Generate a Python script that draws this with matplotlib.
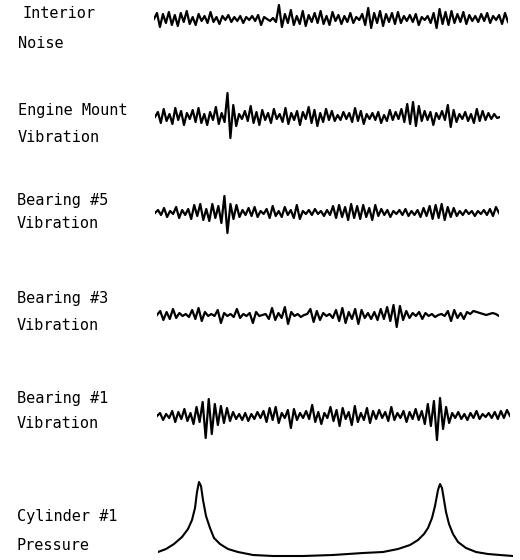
import matplotlib
matplotlib.use("Agg")
import matplotlib.pyplot as plt

W, H = 520, 560

# labels for each channel (two lines each)
labels = [
    ("Interior", "Noise"),
    ("Engine Mount", "Vibration"),
    ("Bearing #5", "Vibration"),
    ("Bearing #3", "Vibration"),
    ("Bearing #1", "Vibration"),
    ("Cylinder #1", "Pressure"),
]

# signals (pixel-ish amplitude, positive = up)
interior_noise = [0, 6, -8, 5, -4, 7, -6, 4, -7, 6, -3, 8, -5, 2, -6, 5, -2, 3, -4, 7,
                  -3, 2, -5, 3, -1, 4, -3, 2, -2, 3, -4, 2, -1, 3, -2, 4, -6, 2, 0, -2,
                  1, -3, 14, -8, 5, -4, 9, -6, 3, -5, 8, -7, 4, -3, 6, -4, 8, -5, 3, -6,
                  7, -2, 4, -5, 3, -3, 6, -4, 2, -1, 5, -6, 11, -9, 6, -4, 8, -7, 5, -3,
                  6, -5, 7, -4, 3, -2, 4, -3, 5, -6, 2, -1, 3, -4, 6, -9, 10, -5, 7, -6,
                  8, -4, 5, -3, 7, -5, 4, -2, 3, -3, 5, -2, 6, -4, 3, -1, 4, -5, 6, -3]

engine_mount = [0, 5, -6, 8, -4, 3, -7, 9, -3, 6, -8, 4, -2, 7, -5, 9, -6, 3, -8, 5,
                -3, 10, -7, 4, -5, 24, -21, 12, -9, 3, -2, 6, -4, 11, -6, 5, -8, 7, -3, 4,
                -6, 8, -2, 3, -5, 9, -7, 4, -3, 6, -8, 5, -2, 10, -6, 7, -9, 4, -5, 8,
                -3, 6, -4, 2, -3, 5, -2, 4, -5, 9, -4, 6, -7, 3, -2, 4, -3, 5, -6, 2,
                -4, 7, -3, 5, -2, 8, -5, 13, -7, 15, -9, 11, -4, 6, -3, 5, -8, 4, -2, 6,
                -3, 12, -10, 7, -5, 3, -2, 5, -4, 3, -6, 8, -4, 6, -3, 4, -2, 3, -1, 0]

bearing_5 = [0, 3, -2, 5, -4, 2, -1, 6, -5, 3, -2, 4, -6, 8, -3, 9, -7, 4, -8, 9,
             -5, 7, -10, 17, -20, 9, -6, 8, -4, 3, -2, 5, -3, 6, -4, 2, -1, 4, -5, 7,
             -3, 2, -4, 6, -2, 3, -5, 8, -6, 2, -1, 3, -2, 4, -1, 2, -3, 3, -2, 7,
             -5, 8, -4, 6, -7, 9, -5, 7, -6, 8, -4, 5, -7, 8, -3, 4, -2, 3, -4, 2,
             -1, 3, -2, 4, -3, 2, -2, 3, -4, 5, -3, 7, -6, 8, -5, 9, -7, 6, -4, 5,
             -3, 2, -2, 3, -1, 2, -3, 2, -1, 3, -2, 4, -3, 6, 0]

bearing_3 = [0, 4, -5, 3, -4, 6, -3, 2, -1, 1, -2, 5, -4, 7, -6, 3, -1, 1, -1, 5,
             -8, 2, -1, 1, -2, 6, -3, 1, -1, 2, -8, 3, -1, 0, 1, -4, 7, -5, 2, -3,
             8, -9, 3, -1, 1, -2, 0, 1, 6, -7, 4, -5, 2, -1, 1, -3, 5, -6, 7, -8,
             3, -4, 6, -9, 5, -3, 2, -4, 3, -5, 6, -4, 8, -6, 10, -12, 9, -5, 4, -3,
             2, -1, 3, -4, 2, -1, 1, -2, 0, 1, -1, 4, -6, 5, -3, 2, -4, 3, 1, 4,
             3, 2, 1, 0, 1, 2, 1, -1]

bearing_1 = [0, 3, -4, 2, -2, 5, -6, 4, -3, 7, -5, 3, -8, 9, -6, 14, -22, 17, -18, 12,
             -9, 10, -7, 8, -5, 4, -3, 2, -4, 3, -5, 2, -3, 4, -2, 5, -6, 8, -4, 9,
             -7, 3, -2, 6, -12, 7, -4, 3, -2, 5, -3, 11, -6, 4, -8, 3, -2, 9, -5, 6,
             -10, 8, -3, 4, -9, 10, -6, 3, -4, 8, -7, 5, -3, 6, -2, 4, -5, 9, -4, 3,
             -2, 5, -6, 4, -3, 7, -4, 5, -8, 12, -10, 15, -24, 18, -13, 9, -7, 3, -2, 4,
             -3, 2, -4, 3, -2, 5, -3, 2, -1, 3, -2, 4, -3, 5, -2, 6, 0]

# cylinder pressure vs time
press_t = [0, 8, 16, 24, 30, 34, 37, 39, 41, 43, 45, 48, 52, 56, 62, 70, 80, 95, 115, 145,
           175, 205, 225, 240, 252, 260, 266, 270, 274, 277, 280, 282, 284, 286, 288, 291,
           295, 300, 308, 318, 330, 342, 355]
press_p = [4, 7, 12, 19, 27, 36, 48, 64, 74, 70, 56, 40, 28, 18, 12, 7, 4, 1, 0, 0,
           1, 3, 4, 7, 11, 16, 22, 28, 38, 50, 66, 72, 68, 56, 44, 32, 22, 14, 8, 4,
           2, 1, 0]

fig = plt.figure(figsize=(W / 100, H / 100), dpi=100)


def px_axes(x0, x1, y_top, y_bot):
    # axes placed in pixel coords (origin top-left)
    ax = fig.add_axes([x0 / W, 1 - y_bot / H, (x1 - x0) / W, (y_bot - y_top) / H])
    ax.set_axis_off()
    return ax


def noise_trace(values, x0, x1, cy, h):
    ax = px_axes(x0, x1, cy - h / 2, cy + h / 2)
    ax.plot(range(len(values)), values, color="black", lw=1.6)
    ax.set_xlim(0, len(values) - 1)
    ax.set_ylim(-h / 2, h / 2)
    return ax


noise_trace(interior_noise, 154, 508, 19, 40)
noise_trace(engine_mount, 155, 500, 117, 60)
noise_trace(bearing_5, 155, 499, 213, 50)
noise_trace(bearing_3, 157, 499, 315, 36)
noise_trace(bearing_1, 157, 510, 416, 60)

ax = px_axes(158, 513, 476, 560)
ax.plot(press_t, press_p, color="black", lw=1.5)
ax.set_xlim(0, 355)
ax.set_ylim(-4, 80)

# text labels
label_pos = [(22, 14, 18, 44), (18, 110, 18, 137), (17, 200, 17, 224),
             (17, 298, 17, 326), (17, 398, 17, 424), (17, 516, 17, 546)]
for (l1, l2), (xa, ya, xb, yb) in zip(labels, label_pos):
    fig.text(xa / W, 1 - ya / H, l1, family="DejaVu Sans Mono", fontsize=11, va="center")
    fig.text(xb / W, 1 - yb / H, l2, family="DejaVu Sans Mono", fontsize=11, va="center")

fig.savefig("out.png", dpi=100, facecolor="white")
